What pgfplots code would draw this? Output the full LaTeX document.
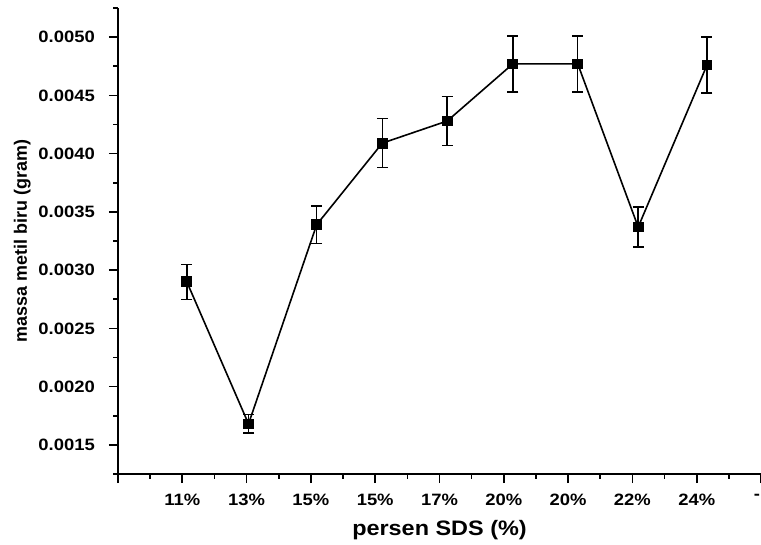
\documentclass[border=0pt]{standalone}
\usepackage{pgfplots}
\pgfplotsset{compat=1.18}
\usepackage{fontspec}
\setmainfont[FakeStretch=1.12]{Liberation Sans}
\newfontfamily\ylfont{Liberation Sans}

\pgfplotstableread{
x     y        e
1.07  0.00290  0.00015
2.03  0.00168  0.00008
3.09  0.00339  0.00016
4.11  0.00409  0.00021
5.12  0.00428  0.00021
6.14  0.00477  0.00024
7.15  0.00477  0.00024
8.09  0.00337  0.00017
9.16  0.00476  0.00024
}\sds

\begin{document}
\begin{tikzpicture}
\begin{axis}[
  name=ax,
  scale only axis,
  width=643bp, height=466bp,
  xmin=0, xmax=10,
  ymin=0.00125, ymax=0.00525,
  axis lines=left,
  axis line style={-, line width=1.9bp},
  tick align=outside,
  major tick length=9bp,
  minor tick length=4.5bp,
  every tick/.style={black, line width=1.6bp},
  xtick={0,1,2,3,4,5,6,7,8,9,10},
  xticklabels={,11\%,13\%,15\%,15\%,17\%,20\%,20\%,22\%,24\%,\makebox[0pt][r]{-\kern1bp}},
  minor xtick={0.5,1.5,2.5,3.5,4.5,5.5,6.5,7.5,8.5,9.5},
  ytick={0.0015,0.0020,0.0025,0.0030,0.0035,0.0040,0.0045,0.0050},
  minor ytick={0.00125,0.00175,0.00225,0.00275,0.00325,0.00375,0.00425,0.00475,0.00525},
  scaled y ticks=false,
  /pgf/number format/assume math mode=true,
  yticklabel style={/pgf/number format/.cd, fixed, fixed zerofill, precision=4, /tikz/.cd,
    font=\bfseries\fontsize{16.5}{18}\selectfont, inner sep=0pt, xshift=-14bp},
  xticklabel style={font=\bfseries\fontsize{16.5}{18}\selectfont, inner sep=0pt, yshift=-11bp},
  xlabel={persen SDS (\%)},
  ylabel={massa metil biru (gram)},
  xlabel style={font=\bfseries\fontsize{21}{24}\selectfont, inner sep=0pt,
    at={(axis description cs:0.5,-0.12)}, anchor=center},
  ylabel style={font=\ylfont\bfseries\fontsize{18}{20}\selectfont, inner sep=0pt,
    at={(axis description cs:-0.149,0.5)}, anchor=center},
]
\addplot[black, line width=1.6bp, mark=square*, mark size=4.6bp,
  mark options={solid, fill=black},
  error bars/.cd, y dir=both, y explicit,
  error bar style={line width=1.5bp, black},
  error mark options={rotate=90, mark size=5.5bp, line width=1.5bp, black}]
  table[x=x, y=y, y error=e] {\sds};
\end{axis}
\pgfresetboundingbox
\path ([xshift=-118bp, yshift=-71bp]ax.south west) rectangle ([yshift=8bp]ax.north east);
\end{tikzpicture}
\end{document}
